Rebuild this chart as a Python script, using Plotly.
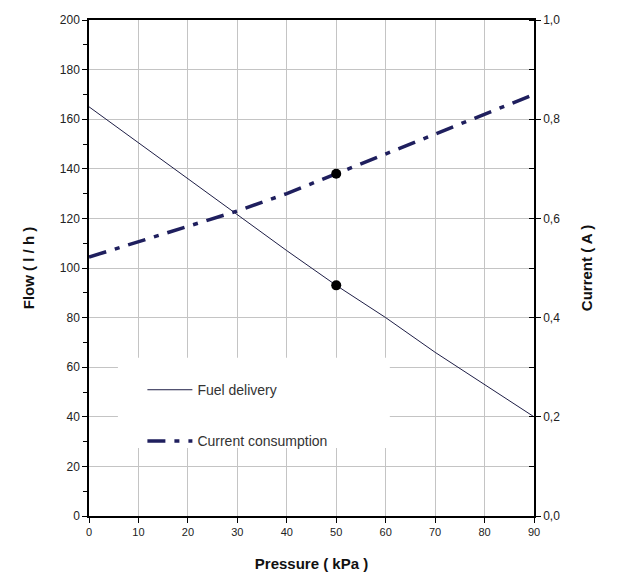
import plotly.graph_objects as go

pressure = [0, 10, 20, 30, 40, 50, 60, 70, 80, 90]
fuel_delivery = [165, 150.5, 136, 121.5, 107, 93, 80, 66, 53, 40]
current_consumption = [0.522, 0.553, 0.585, 0.615, 0.65, 0.69, 0.73, 0.77, 0.81, 0.85]
marked_pressure = [50]

idx = [pressure.index(p) for p in marked_pressure]

FONT = "Liberation Sans, Arial, sans-serif"
fig = go.Figure()

fig.add_trace(go.Scatter(
    x=pressure, y=fuel_delivery, mode="lines", name="Fuel delivery",
    line=dict(color="#1e1e46", width=1), legendgroup="a"))
fig.add_trace(go.Scatter(
    x=pressure, y=current_consumption, mode="lines", name="Current consumption",
    yaxis="y2", line=dict(color="#1f1f5e", width=3.5, dash="18px,9px,5px,9px"),
    legendgroup="b"))
fig.add_trace(go.Scatter(
    x=marked_pressure, y=[fuel_delivery[i] for i in idx], mode="markers",
    marker=dict(color="black", size=10, symbol="circle"), showlegend=False))
fig.add_trace(go.Scatter(
    x=marked_pressure, y=[current_consumption[i] for i in idx], mode="markers",
    yaxis="y2", marker=dict(color="black", size=10, symbol="circle"), showlegend=False))

# white backdrop behind the legend (hides grid lines, as in the original)
fig.add_shape(type="rect", xref="paper", yref="paper",
              x0=0.065, x1=0.676, y0=0.137, y1=0.319,
              fillcolor="white", line=dict(width=0), layer="above")

fig.update_layout(
    width=621, height=579,
    margin=dict(l=89, r=87, t=20, b=63),
    paper_bgcolor="white", plot_bgcolor="white",
    separators=",.",
    font=dict(family=FONT, color="#222"),
    showlegend=True,
    legend=dict(x=0.12, y=0.286, xanchor="left", yanchor="top",
                bgcolor="rgba(255,255,255,0)", borderwidth=0,
                font=dict(size=14, color="#333"),
                tracegroupgap=30, itemwidth=45,
                traceorder="grouped"),
    xaxis=dict(range=[0, 90], dtick=10, tick0=0, automargin=False,
               showgrid=True, gridcolor="#c4c4c4", gridwidth=1,
               showline=True, linecolor="black", linewidth=1.5, mirror=True,
               ticks="outside", ticklen=5, tickcolor="black",
               tickfont=dict(size=11, color="#222"),
               zeroline=False,
               title=dict(text="<b>Pressure ( kPa )</b>", font=dict(size=15, color="#111"),
                          standoff=22)),
    yaxis=dict(range=[0, 200], dtick=20, tick0=0, automargin=False,
               showgrid=True, gridcolor="#c4c4c4", gridwidth=1,
               showline=True, linecolor="black", linewidth=1.5,
               ticks="outside", ticklen=5, tickcolor="black",
               minor=dict(dtick=10, ticks="outside", ticklen=4, tickcolor="black", showgrid=False),
               tickfont=dict(size=12, color="#222"),
               zeroline=False,
               title=dict(text="<b>Flow ( l / h )</b>", font=dict(size=15, color="#111"),
                          standoff=22)),
    yaxis2=dict(range=[0, 1], dtick=0.2, tick0=0, tickformat=".1f", automargin=False,
                overlaying="y", side="right", showgrid=False,
                showline=True, linecolor="black", linewidth=1.5,
                ticks="outside", ticklen=5, tickcolor="black",
                minor=dict(dtick=0.1, ticks="inside", ticklen=5, tickcolor="black", showgrid=False),
                tickfont=dict(size=12, color="#222"),
                zeroline=False,
                title=dict(text="<b>Current ( A )</b>", font=dict(size=15, color="#111"),
                           standoff=22)),
)

fig.write_html("out.html", config={"displayModeBar": False},
               post_script="document.body.style.margin='0';")
